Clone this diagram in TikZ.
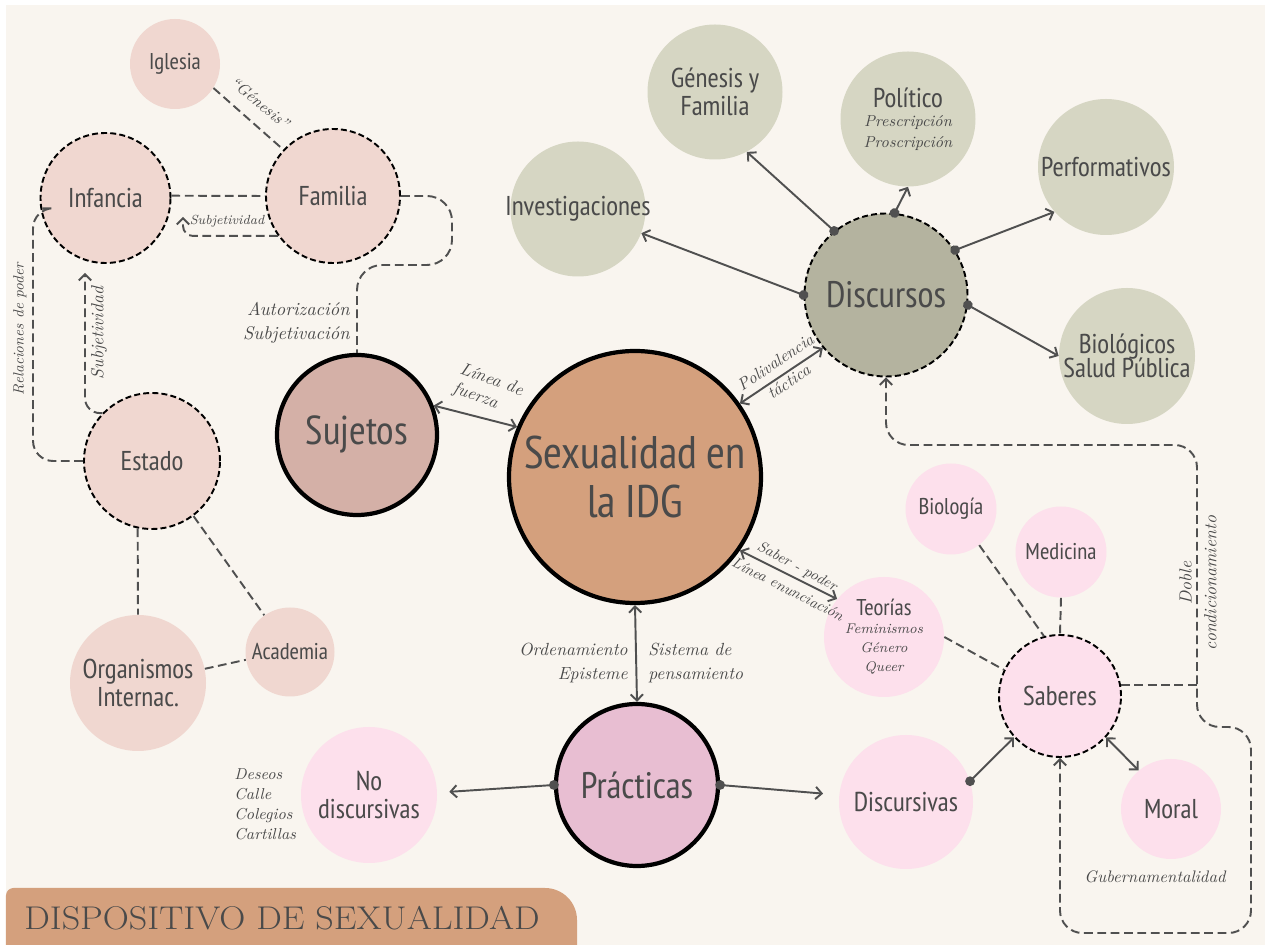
\documentclass[tikz,border=0pt]{standalone}
\usepackage{fontspec}
\setsansfont{PT Sans Narrow}
\newfontfamily\titulofuente[FakeStretch=1.1]{Latin Modern Roman}
\usetikzlibrary{arrows.meta,shapes.geometric}
\definecolor{paper}{HTML}{F9F5EF}
\definecolor{ink}{HTML}{4A4A4A}
\definecolor{wire}{HTML}{505050}
\definecolor{rosa}{HTML}{F0D7D0}
\definecolor{malva}{HTML}{D4B0A7}
\definecolor{tierra}{HTML}{D4A07D}
\definecolor{oliva}{HTML}{B4B39F}
\definecolor{salvia}{HTML}{D6D6C3}
\definecolor{orquidea}{HTML}{E8BED2}
\definecolor{chicle}{HTML}{FDE0EC}
\newcommand\menor{\rmfamily\itshape\fontsize{9}{11}\selectfont}
\newcommand\minimo{\rmfamily\itshape\fontsize{8}{11}\selectfont}

\begin{document}
\begin{tikzpicture}[
    nodo/.style={circle, inner sep=0pt, align=center, text=ink, font=\sffamily\fontsize{15.5}{16}\selectfont},
    chico/.style={nodo, font=\sffamily\fontsize{13}{14}\selectfont},
    grande/.style={nodo, font=\sffamily\fontsize{21}{22}\selectfont},
    borde/.style={draw=black, line width=1.1pt, dash pattern=on 3.4pt off 1.8pt},
    grueso/.style={draw=black, line width=2.4pt},
    guion/.style={draw=wire, line width=1.1pt, dash pattern=on 5pt off 2.6pt},
    guionflecha/.style={guion, -{Straight Barb[length=3.5pt,width=7pt]}},
    doble/.style={draw=wire, line width=1.1pt, {Straight Barb[length=3.5pt,width=7pt]}-{Straight Barb[length=3.5pt,width=7pt]}},
    punta/.style={draw=wire, line width=1.1pt, {Circle[length=5.5pt]}-{Straight Barb[length=3.5pt,width=7pt]}, shorten <=-2.75pt},
    nota/.style={text=ink, inner sep=0pt, font=\rmfamily\itshape\fontsize{10}{13.5}\selectfont},
  ]
  \useasboundingbox (0.000000,0.000000) rectangle (25.300000,18.900000);%
  {\sffamily

  % Drawing background
  \fill[white] (0.000000,0.000000) rectangle (25.300000,18.900000);%
  \fill[paper] (0.120000,0.000000) rectangle (25.300000,18.800000);%

  % Drawing banner
  \fill[tierra] (0.120000,0.000000) -- (0.120000,0.990000) arc (180:90:0.150000) -- (10.900000,1.140000) arc (90:0:0.640000) -- (11.540000,0.000000) -- cycle;%
  \node[anchor=base west, text=ink, inner sep=0pt, font=\titulofuente\fontsize{18.7}{20}\selectfont] (titulo) at (0.480000,0.300000) {DISPOSITIVO DE SEXUALIDAD};%

  % Drawing node Iglesia
  \node[chico, fill=rosa, minimum size=1.800000cm] (iglesia) at (3.500000,17.620000) {Iglesia};%

  % Drawing node Infancia
  \node[nodo, fill=rosa, borde, minimum size=2.600000cm] (infancia) at (2.110000,14.940000) {Infancia};%

  % Drawing node Familia
  \node[nodo, fill=rosa, borde, minimum size=2.680000cm] (familia) at (6.660000,14.980000) {Familia};%

  % Drawing node Estado
  \node[nodo, fill=rosa, borde, minimum size=2.720000cm] (estado) at (3.040000,9.680000) {Estado};%

  % Drawing node Organismos
  \node[nodo, fill=rosa, minimum size=2.720000cm] (organismos) at (2.760000,5.240000) {Organismos\\Internac.};%

  % Drawing node Academia
  \node[chico, fill=rosa, minimum size=1.780000cm] (academia) at (5.800000,5.860000) {Academia};%

  % Drawing node Sujetos
  \node[grande, fill=malva, grueso, minimum size=3.200000cm, font=\sffamily\fontsize{23}{24}\selectfont] (sujetos) at (7.140000,10.200000) {Sujetos};%

  % Drawing node Sexualidad
  \node[nodo, fill=tierra, grueso, minimum size=5.040000cm, font=\sffamily\fontsize{26}{28}\selectfont] (sexualidad) at (12.700000,9.360000) {Sexualidad en\\la IDG};%

  % Drawing node Discursos
  \node[grande, fill=oliva, borde, minimum size=3.260000cm] (discursos) at (17.720000,13.000000) {Discursos};%

  % Drawing node Investigaciones
  \node[nodo, fill=salvia, minimum size=2.700000cm] (investigaciones) at (11.560000,14.720000) {\makebox[0pt]{Investigaciones}};%

  % Drawing node Genesis
  \node[nodo, fill=salvia, minimum size=2.700000cm] (genesis) at (14.300000,17.060000) {Génesis y\\Familia};%

  % Drawing node Politico
  \node[nodo, fill=salvia, minimum size=2.700000cm] (politico) at (18.160000,16.520000) {Político\\[-5pt]{\menor Prescripción}\\[-4pt]{\menor Proscripción}};%

  % Drawing node Performativos
  \node[nodo, fill=salvia, minimum size=2.720000cm] (performativos) at (22.120000,15.560000) {\makebox[0pt]{Performativos}};%

  % Drawing node Biologicos
  \node[nodo, fill=salvia, minimum size=2.720000cm] (biologicos) at (22.540000,11.780000) {Biológicos\\[-2pt]Salud Pública};%

  % Drawing node Practicas
  \node[grande, fill=orquidea, grueso, minimum size=3.240000cm] (practicas) at (12.740000,3.200000) {Prácticas};%

  % Drawing node No discursivas
  \node[nodo, fill=chicle, minimum size=2.720000cm] (nodiscursivas) at (7.380000,3.000000) {No\\discursivas};%

  % Drawing node Discursivas
  \node[nodo, fill=chicle, minimum size=2.680000cm] (discursivas) at (18.120000,2.860000) {Discursivas};%

  % Drawing node Teorias
  \node[ellipse, chico, fill=chicle, inner xsep=-0.400000cm, minimum width=1.920000cm, minimum height=2.400000cm] (teorias) at (17.680000,6.160000) {Teorías\\[-4pt]{\minimo Feminismos}\\[-3pt]{\minimo Género}\\[-3pt]{\minimo Queer}};%

  % Drawing node Biologia
  \node[chico, fill=chicle, minimum size=1.820000cm] (biologia) at (19.020000,8.720000) {Biología};%

  % Drawing node Medicina
  \node[chico, fill=chicle, minimum size=1.820000cm] (medicina) at (21.220000,7.860000) {Medicina};%

  % Drawing node Saberes
  \node[nodo, fill=chicle, borde, minimum size=2.440000cm] (saberes) at (21.200000,4.980000) {Saberes};%

  % Drawing node Moral
  \node[nodo, fill=chicle, minimum size=2.000000cm] (moral) at (23.420000,2.720000) {Moral};%

  % Drawing free ends
  \coordinate (puntaA) at (3.660000,14.560000);%
  \coordinate (puntaB) at (1.700000,13.440000);%

  % Drawing line Iglesia Familia
  \draw[guion] (iglesia.-32) -- (familia.137);%

  % Drawing line Infancia Familia
  \draw[guion] (infancia.2) -- (familia.180);%

  % Drawing line Familia Infancia
  \draw[guionflecha, rounded corners=0.200000cm] (familia.216) -| (puntaA);%

  % Drawing line Estado Infancia
  \draw[guionflecha, rounded corners=0.300000cm] (estado.136) -| (puntaB);%
  \draw[guion, rounded corners=0.400000cm] (estado.west) -- ++(-1.000000,0) |- (infancia.189);%

  % Drawing line Familia Sujetos
  \draw[guion, rounded corners=0.500000cm] (familia.east) -| (9.040000,13.600000) -| (sujetos.north);%

  % Drawing line Estado Organismos Academia
  \draw[guion] (estado.-102) -- (organismos.north);%
  \draw[guion] (estado.-53) -- (academia.125);%
  \draw[guion] (organismos.12) -- (academia.190);%

  % Drawing line Sujetos Sexualidad
  \draw[doble] (sujetos.21) -- (sexualidad.157);%

  % Drawing line Sexualidad Discursos
  \draw[doble] (sexualidad.35) -- (discursos.220);%

  % Drawing line Sexualidad Practicas
  \draw[doble] (sexualidad.south) -- (practicas.north);%

  % Drawing line Sexualidad Teorias
  \draw[doble] (sexualidad.-35) -- (teorias.141);%

  % Drawing lines Discursos
  \draw[punta] (discursos.180) -- (investigaciones);%
  \draw[punta] (discursos.129) -- (genesis.-62);%
  \draw[punta] (discursos.84) -- (politico.south);%
  \draw[punta] (discursos.33) -- (performativos.221);%
  \draw[punta] (discursos.-7) -- (biologicos.180);%

  % Drawing lines Practicas
  \draw[punta, shorten >=0.240000cm] (practicas.180) -- (nodiscursivas.2);%
  \draw[punta, shorten >=0.320000cm] (practicas.0) -- (discursivas.174);%

  % Drawing lines Saberes
  \draw[punta] (discursivas.18) -- (saberes.222);%
  \draw[doble] (saberes.-42) -- (moral.130);%
  \draw[guion] (biologia.-52) -- (saberes.105);%
  \draw[guion] (medicina.south) -- (saberes.north);%
  \draw[guion] (teorias.east) -- (saberes.155);%

  % Drawing line Saberes Discursos
  \draw[guion, {Straight Barb[length=3.5pt,width=7pt]}-{Straight Barb[length=3.5pt,width=7pt]}, rounded corners=0.450000cm] (saberes.south) |- (25.020000,0.240000) |- (23.940000,4.360000) |- (17.720000,10.000000) -- (discursos.south);%
  \draw[guion] (saberes.10) -- ++(1.540000,0);%

  % Marking labels
  \node[nota, rotate=-39, font=\rmfamily\itshape\fontsize{9}{11}\selectfont] (lblgenesis) at (5.200000,16.840000) {“Génesis”};%
  \node[nota, font=\rmfamily\itshape\fontsize{7.5}{9}\selectfont] (lblsubjA) at (4.540000,14.480000) {Subjetividad};%
  \node[nota, rotate=90, font=\rmfamily\itshape\fontsize{10}{12}\selectfont] (lblsubjB) at (1.980000,12.240000) {Subjetividad};%
  \node[nota, rotate=90, font=\rmfamily\itshape\fontsize{8.5}{11}\selectfont] (lblrelaciones) at (0.400000,12.320000) {Relaciones de poder};%
  \node[nota, anchor=east, align=right, font=\rmfamily\itshape\fontsize{10.5}{13.5}\selectfont] (lblautorizacion) at (7.000000,12.440000) {Autorización\\Subjetivación};%
  \node[nota, rotate=-20, align=left, font=\rmfamily\itshape\fontsize{10}{11.5}\selectfont] (lblfuerza) at (9.760000,11.100000) {Línea de\\fuerza};%
  \node[nota, rotate=34, align=center, font=\rmfamily\itshape\fontsize{9.5}{13.5}\selectfont] (lblpolivalencia) at (15.640000,11.460000) {Polivalencia\\táctica};%
  \node[nota, rotate=-28, font=\rmfamily\itshape\fontsize{8.5}{10}\selectfont] (lblsaber) at (15.940000,7.560000) {Saber - poder};%
  \node[nota, rotate=-27, font=\rmfamily\itshape\fontsize{8.5}{10}\selectfont] (lblenunciacion) at (15.760000,7.120000) {Línea enunciación};%
  \node[nota, anchor=east, align=right] (lblordenamiento) at (12.560000,5.640000) {Ordenamiento\\Episteme};%
  \node[nota, anchor=west, align=left] (lblsistema) at (12.960000,5.640000) {Sistema de\\pensamiento};%
  \node[nota, anchor=west, align=left, font=\rmfamily\itshape\fontsize{9}{11.4}\selectfont] (lbldeseos) at (4.680000,2.820000) {Deseos\\Calle\\Colegios\\Cartillas};%
  \node[nota, font=\rmfamily\itshape\fontsize{9.5}{12}\selectfont] (lblguber) at (23.100000,1.360000) {Gubernamentalidad};%
  \node[nota, rotate=90, align=center, font=\rmfamily\itshape\fontsize{10}{14}\selectfont] (lbldoble) at (23.960000,7.240000) {Doble\\condicionamiento};%
  }
\end{tikzpicture}
\end{document}
